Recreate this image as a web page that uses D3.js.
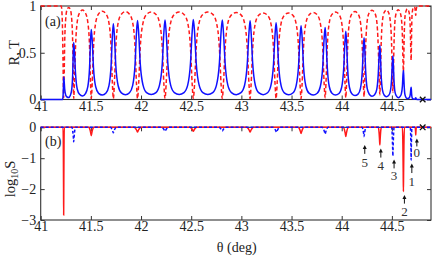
<!DOCTYPE html>
<html><head><meta charset="utf-8">
<script src="https://cdn.jsdelivr.net/npm/d3@7"></script>
<style>
body{margin:0;background:#fff}
svg{display:block}
</style>
</head><body><svg id="c" width="436" height="258"></svg>
<script>
// ---------- data ----------
const xTicks = [41, 41.5, 42, 42.5, 43, 43.5, 44, 44.5];
const rtTicks = [0, 0.5, 1];
const logTicks = [0, -1, -2, -3];

// transmission T (blue solid), [theta, T]
const transmission = [
[41.000,0],[41.218,0],[41.224,0.06],[41.227,0.16],[41.229,0.24],
[41.233,0.208],[41.239,0.113],[41.249,0.048],[41.262,0.027],[41.279,0.022],[41.296,0.046],[41.309,0.105],[41.319,0.275],[41.325,0.517],
[41.329,0.61],
[41.336,0.522],[41.347,0.280],[41.364,0.112],[41.387,0.055],[41.417,0.037],[41.446,0.063],[41.469,0.134],[41.487,0.341],[41.497,0.639],
[41.504,0.75],
[41.513,0.640],[41.526,0.343],[41.548,0.136],[41.577,0.066],[41.614,0.048],[41.651,0.069],[41.680,0.145],[41.702,0.370],[41.715,0.690],
[41.724,0.81],
[41.734,0.691],[41.748,0.371],[41.772,0.147],[41.804,0.071],[41.845,0.051],[41.885,0.073],[41.917,0.152],[41.941,0.386],[41.955,0.720],
[41.965,0.845],
[41.976,0.721],[41.992,0.386],[42.020,0.153],[42.055,0.073],[42.102,0.053],[42.149,0.074],[42.184,0.154],[42.212,0.388],[42.228,0.725],
[42.239,0.85],
[42.250,0.725],[42.267,0.389],[42.295,0.154],[42.332,0.074],[42.380,0.053],[42.428,0.074],[42.465,0.154],[42.493,0.391],[42.510,0.729],
[42.521,0.855],
[42.533,0.729],[42.550,0.391],[42.579,0.154],[42.616,0.074],[42.666,0.053],[42.715,0.074],[42.752,0.154],[42.781,0.389],[42.798,0.725],
[42.810,0.85],
[42.821,0.725],[42.838,0.388],[42.865,0.153],[42.901,0.074],[42.949,0.052],[42.996,0.073],[43.032,0.152],[43.059,0.385],[43.076,0.719],
[43.087,0.843],
[43.097,0.719],[43.113,0.385],[43.139,0.152],[43.172,0.073],[43.217,0.052],[43.261,0.072],[43.294,0.148],[43.320,0.375],[43.336,0.700],
[43.346,0.82],
[43.356,0.699],[43.371,0.374],[43.396,0.148],[43.428,0.071],[43.471,0.050],[43.513,0.069],[43.545,0.143],[43.570,0.361],[43.585,0.674],
[43.595,0.79],
[43.605,0.674],[43.619,0.361],[43.643,0.142],[43.674,0.068],[43.715,0.048],[43.756,0.067],[43.787,0.139],[43.811,0.352],[43.825,0.657],
[43.835,0.77],
[43.843,0.657],[43.856,0.351],[43.876,0.139],[43.903,0.066],[43.938,0.047],[43.973,0.064],[44.000,0.132],[44.020,0.334],[44.033,0.623],
[44.041,0.73],
[44.048,0.622],[44.059,0.333],[44.077,0.131],[44.101,0.062],[44.132,0.043],[44.163,0.058],[44.187,0.120],[44.205,0.302],[44.216,0.564],
[44.223,0.66],
[44.229,0.562],[44.239,0.301],[44.254,0.118],[44.275,0.056],[44.302,0.036],[44.328,0.052],[44.349,0.106],[44.364,0.266],[44.374,0.495],
[44.380,0.58],
[44.385,0.494],[44.393,0.264],[44.406,0.103],[44.423,0.048],[44.445,0.029],[44.467,0.042],[44.484,0.085],[44.497,0.214],[44.505,0.397],
[44.510,0.465],
[44.514,0.395],[44.521,0.211],[44.531,0.082],[44.545,0.038],[44.563,0.020],[44.580,0.030],[44.594,0.058],[44.605,0.143],[44.611,0.266],
[44.615,0.31],
[44.618,0.263],[44.623,0.140],[44.630,0.054],[44.640,0.024],[44.654,0.011],[44.667,0.014],[44.677,0.026],[44.684,0.061],[44.689,0.113],
[44.692,0.13],
[44.694,0.110],[44.697,0.058],[44.701,0.022],[44.707,0.009],[44.715,0.005],[44.723,0.004],[44.729,0.005],[44.733,0.009],[44.736,0.017],
[44.738,0.02],
[44.740,0.015],[44.743,0.007],[44.748,0.002],[44.755,0],[44.890,0]
];

// reflection R (red dashed), [theta, R]
const reflection = [
[41.000,1],[41.205,1],[41.215,0.85],[41.222,0.45],[41.226,0.15],[41.229,0.02],
[41.233,0.2],[41.239,0.6],[41.249,0.86],[41.262,0.96],[41.279,0.985],[41.296,0.96],[41.309,0.86],[41.319,0.6],[41.325,0.2],
[41.329,0.01],
[41.336,0.17],[41.347,0.56],[41.364,0.83],[41.387,0.925],[41.417,0.957],[41.446,0.925],[41.469,0.83],[41.487,0.56],[41.497,0.17],
[41.504,0.01],
[41.513,0.16],[41.526,0.55],[41.548,0.82],[41.577,0.915],[41.614,0.945],[41.651,0.915],[41.680,0.82],[41.702,0.55],[41.715,0.16],
[41.724,0.01],
[41.734,0.16],[41.748,0.55],[41.772,0.82],[41.804,0.912],[41.845,0.94],[41.885,0.912],[41.917,0.82],[41.941,0.55],[41.955,0.16],
[41.965,0.01],
[41.976,0.16],[41.992,0.55],[42.020,0.82],[42.055,0.91],[42.102,0.935],[42.149,0.91],[42.184,0.82],[42.212,0.55],[42.228,0.16],
[42.239,0.01],
[42.250,0.16],[42.267,0.55],[42.295,0.82],[42.332,0.91],[42.380,0.935],[42.428,0.91],[42.465,0.82],[42.493,0.55],[42.510,0.16],
[42.521,0.01],
[42.533,0.16],[42.550,0.55],[42.579,0.82],[42.616,0.91],[42.666,0.935],[42.715,0.91],[42.752,0.82],[42.781,0.55],[42.798,0.16],
[42.810,0.01],
[42.821,0.16],[42.838,0.55],[42.865,0.815],[42.901,0.905],[42.949,0.93],[42.996,0.905],[43.032,0.815],[43.059,0.55],[43.076,0.16],
[43.087,0.01],
[43.097,0.16],[43.113,0.55],[43.139,0.815],[43.172,0.9],[43.217,0.925],[43.261,0.9],[43.294,0.815],[43.320,0.55],[43.336,0.16],
[43.346,0.01],
[43.356,0.16],[43.371,0.55],[43.396,0.815],[43.428,0.9],[43.471,0.925],[43.513,0.9],[43.545,0.815],[43.570,0.55],[43.585,0.16],
[43.595,0.01],
[43.605,0.16],[43.619,0.55],[43.643,0.815],[43.674,0.905],[43.715,0.93],[43.756,0.905],[43.787,0.815],[43.811,0.55],[43.825,0.17],
[43.835,0.02],
[43.843,0.17],[43.856,0.56],[43.876,0.82],[43.903,0.91],[43.938,0.935],[43.973,0.91],[44.000,0.82],[44.020,0.56],[44.033,0.17],
[44.041,0.02],
[44.048,0.17],[44.059,0.56],[44.077,0.825],[44.101,0.915],[44.132,0.94],[44.163,0.915],[44.187,0.825],[44.205,0.56],[44.216,0.18],
[44.223,0.03],
[44.229,0.18],[44.239,0.57],[44.254,0.84],[44.275,0.93],[44.302,0.955],[44.328,0.93],[44.349,0.84],[44.364,0.57],[44.374,0.2],
[44.380,0.05],
[44.385,0.2],[44.393,0.58],[44.406,0.84],[44.423,0.93],[44.445,0.957],[44.467,0.93],[44.484,0.84],[44.497,0.6],[44.505,0.24],
[44.510,0.08],
[44.514,0.22],[44.521,0.58],[44.531,0.84],[44.545,0.93],[44.563,0.96],[44.580,0.935],[44.594,0.87],[44.605,0.68],[44.611,0.40],
[44.615,0.30],
[44.618,0.40],[44.623,0.68],[44.630,0.875],[44.640,0.94],[44.654,0.97],[44.667,0.948],[44.677,0.894],[44.684,0.734],[44.689,0.504],
[44.692,0.42],
[44.694,0.51],[44.697,0.74],[44.701,0.90],[44.707,0.958],[44.715,0.985],[44.723,0.99],[44.729,0.98],[44.733,0.95],[44.736,0.915],
[44.738,0.90],
[44.740,0.92],[44.743,0.96],[44.748,0.99],[44.755,1],[44.890,1]
];

// log10 S, red solid series
const logSRed = [
[41.000,0],
[41.223,0],[41.226,-0.85],[41.2278,-1.99],[41.229,-2.84],[41.2302,-1.99],[41.232,-0.85],[41.235,0],
[41.479,0],[41.4915,-0.081],[41.499,-0.189],[41.504,-0.27],[41.509,-0.189],[41.5165,-0.081],[41.529,0],
[41.930,0],[41.9475,-0.045],[41.958,-0.105],[41.965,-0.15],[41.972,-0.105],[41.9825,-0.045],[42.000,0],
[42.486,0],[42.5035,-0.039],[42.514,-0.091],[42.521,-0.13],[42.528,-0.091],[42.5385,-0.039],[42.556,0],
[43.052,0],[43.0695,-0.045],[43.080,-0.105],[43.087,-0.15],[43.094,-0.105],[43.1045,-0.045],[43.122,0],
[43.565,0],[43.580,-0.06],[43.589,-0.14],[43.595,-0.2],[43.601,-0.14],[43.610,-0.06],[43.625,0],
[44.016,0],[44.0285,-0.09],[44.036,-0.21],[44.041,-0.3],[44.046,-0.21],[44.0535,-0.09],[44.066,0],
[44.365,0],[44.3725,-0.171],[44.377,-0.399],[44.380,-0.57],[44.383,-0.399],[44.3875,-0.171],[44.395,0],
[44.605,0],[44.610,-0.624],[44.613,-1.456],[44.615,-2.08],[44.617,-1.456],[44.620,-0.624],[44.625,0],
[44.732,0],[44.735,-0.075],[44.7368,-0.175],[44.738,-0.25],[44.7392,-0.175],[44.741,-0.075],[44.744,0],
[44.890,0]
];

// log10 S, blue dashed series
const logSBlue = [
[41.000,0],
[41.312,0],[41.320,-0.141],[41.3255,-0.329],[41.329,-0.47],[41.3325,-0.329],[41.338,-0.141],[41.346,0],
[41.694,0],[41.709,-0.054],[41.718,-0.126],[41.724,-0.18],[41.730,-0.126],[41.739,-0.054],[41.754,0],
[42.204,0],[42.2215,-0.039],[42.232,-0.091],[42.239,-0.13],[42.246,-0.091],[42.2565,-0.039],[42.274,0],
[42.775,0],[42.7925,-0.036],[42.803,-0.084],[42.810,-0.12],[42.817,-0.084],[42.8275,-0.036],[42.845,0],
[43.315,0],[43.3325,-0.048],[43.343,-0.112],[43.350,-0.16],[43.357,-0.112],[43.3675,-0.048],[43.385,0],
[43.805,0],[43.820,-0.066],[43.829,-0.154],[43.835,-0.22],[43.841,-0.154],[43.850,-0.066],[43.865,0],
[44.203,0],[44.213,-0.09],[44.219,-0.21],[44.223,-0.3],[44.227,-0.21],[44.233,-0.09],[44.243,0],
[44.4975,0],[44.50375,-0.279],[44.5075,-0.651],[44.510,-0.93],[44.5125,-0.651],[44.51625,-0.279],[44.5225,0],
[44.684,0],[44.688,-0.318],[44.6904,-0.742],[44.692,-1.06],[44.6936,-0.742],[44.696,-0.318],[44.700,0],
[44.890,0]
];

// numbered mode annotations (bottom panel, in data units)
const modeLabels   = ["5", "4", "3", "2", "1", "0"];
const modeTheta    = [44.230, 44.390, 44.522, 44.625, 44.699, 44.749];
const modeArrowTip = [-0.57, -0.69, -1.04, -2.19, -1.17, -0.36];
const modeArrowEnd = [-0.86, -0.98, -1.33, -2.47, -1.48, -0.62];
const modeLabelPos = [-1.14, -1.22, -1.56, -2.71, -1.74, -0.82];
const cutoffTheta = 44.807;

// ---------- drawing ----------
const SERIF = '"Liberation Serif", "DejaVu Serif", "Times New Roman", serif';
const svg = d3.select("#c");
const xL = 40.7, xR = 431;
const x = d3.scaleLinear().domain([41, 44.89]).range([xL, xR]);
const yTop = d3.scaleLinear().domain([0, 1]).range([99.5, 6]);
const yBot = d3.scaleLinear().domain([-3, 0]).range([220, 127.3]);
const fmt = d => d < 0 ? "\u2212" + Math.abs(d) : String(d);
const frameCol = "#333";

function panel(y, yTicks) {
  const [yb, yt] = y.range();
  svg.append("rect").attr("x", xL).attr("y", yt).attr("width", xR - xL).attr("height", yb - yt)
    .attr("fill", "none").attr("stroke", frameCol).attr("stroke-width", 1.1);
  const style = g => {
    g.select(".domain").remove();
    g.attr("font-size", 14).attr("font-family", null).attr("color", "#222");
    g.selectAll(".tick line").attr("stroke", frameCol);
  };
  svg.append("g").attr("transform", `translate(0,${yb})`)
    .call(d3.axisBottom(x).tickValues(xTicks).tickSize(-4).tickPadding(1.5).tickFormat(fmt)).call(style);
  svg.append("g").attr("transform", `translate(0,${yt})`)
    .call(d3.axisTop(x).tickValues(xTicks).tickSize(-4).tickFormat("")).call(style);
  svg.append("g").attr("transform", `translate(${xL},0)`)
    .call(d3.axisLeft(y).tickValues(yTicks).tickSize(-4).tickPadding(4.5).tickFormat(fmt)).call(style);
  svg.append("g").attr("transform", `translate(${xR},0)`)
    .call(d3.axisRight(y).tickValues(yTicks).tickSize(-4).tickFormat("")).call(style);
}
panel(yTop, rtTicks);
panel(yBot, logTicks);

const lineTop = d3.line().x(d => x(d[0])).y(d => yTop(d[1])).curve(d3.curveMonotoneX);
const lineBot = d3.line().x(d => x(d[0])).y(d => yBot(d[1])).curve(d3.curveMonotoneX);

svg.append("path").datum(reflection).attr("d", lineTop)
  .attr("fill", "none").attr("stroke", "#ff1a1a").attr("stroke-width", 1.5).attr("stroke-dasharray", "4,2.5");
svg.append("path").datum(transmission).attr("d", lineTop)
  .attr("fill", "none").attr("stroke", "#1010ff").attr("stroke-width", 1.5);

svg.append("path").datum(logSRed).attr("d", lineBot)
  .attr("fill", "none").attr("stroke", "#ff1a1a").attr("stroke-width", 1.5);
svg.append("path").datum(logSBlue).attr("d", lineBot)
  .attr("fill", "none").attr("stroke", "#1010ff").attr("stroke-width", 1.5).attr("stroke-dasharray", "3,2");

// cutoff markers (x)
[[yTop, 0], [yBot, 0]].forEach(([y, v]) => {
  const cx = x(cutoffTheta), cy = y(v), s = 2.8;
  svg.append("path").attr("d", `M${cx - s},${cy - s}L${cx + s},${cy + s}M${cx - s},${cy + s}L${cx + s},${cy - s}`)
    .attr("stroke", "#111").attr("stroke-width", 1.3).attr("fill", "none");
});

// mode arrows and labels
modeLabels.forEach((lab, i) => {
  const ax = x(modeTheta[i]), tip = yBot(modeArrowTip[i]), tail = yBot(modeArrowEnd[i]);
  svg.append("line").attr("x1", ax).attr("x2", ax).attr("y1", tail).attr("y2", tip + 3)
    .attr("stroke", "#111").attr("stroke-width", 1);
  svg.append("path").attr("d", `M${ax},${tip}L${ax - 2},${tip + 4}L${ax + 2},${tip + 4}Z`).attr("fill", "#111");
  svg.append("text").attr("x", ax).attr("y", yBot(modeLabelPos[i])).attr("dy", "0.35em")
    .attr("text-anchor", "middle").attr("font-size", 13).attr("fill", "#333").text(lab);
});

// panel tags
svg.append("text").attr("x", 45).attr("y", 25.5).attr("font-size", 14).attr("fill", "#222").text("(a)");
svg.append("text").attr("x", 45).attr("y", 145.5).attr("font-size", 14).attr("fill", "#222").text("(b)");

// axis titles
svg.append("text").attr("transform", "translate(19,52.7) rotate(-90)").attr("text-anchor", "middle")
  .attr("font-size", 14.5).attr("fill", "#222").text("R, T");
const yl = svg.append("text").attr("transform", "translate(14.6,179) rotate(-90)").attr("text-anchor", "middle")
  .attr("font-size", 14.5).attr("fill", "#222");
yl.append("tspan").text("log");
yl.append("tspan").attr("font-size", 10).attr("dy", 3).text("10");
yl.append("tspan").attr("dy", -3).text("S");
svg.append("text").attr("x", 236.7).attr("y", 251.5).attr("text-anchor", "middle")
  .attr("font-size", 14).attr("fill", "#222").text("\u03b8 (deg)");

svg.selectAll("text").style("font-family", SERIF);
</script>
</body></html>
